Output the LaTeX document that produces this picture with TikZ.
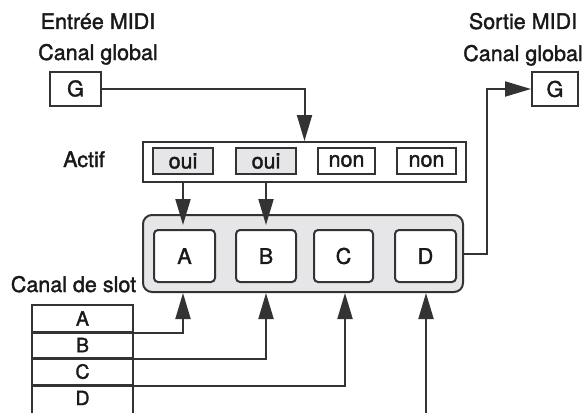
\documentclass[tikz,border=0pt]{standalone}
\usepackage{fontspec}
\setmainfont{TeX Gyre Heros}[FakeBold=1.6]
\usetikzlibrary{arrows.meta}
\definecolor{ln}{HTML}{333333}
\definecolor{gfill}{HTML}{E6E6E8}
\begin{document}
\begin{tikzpicture}[x=1pt,y=-1pt,
  every node/.style={font=\fontsize{21.5}{24}\selectfont, text=black!90, inner sep=0pt},
  lbl/.style={anchor=base},
  gbox/.style={draw=ln,line width=2pt,fill=white,minimum height=34pt},
  flag/.style={draw=ln,line width=1.3pt,minimum height=26pt},
  slotbox/.style={draw=ln,line width=2pt,fill=white,rounded corners=4pt,minimum height=52pt,minimum width=60pt},
  row/.style={draw=ln,line width=2pt,minimum width=101pt,font=\fontsize{19.5}{22}\selectfont},
  conn/.style={draw=ln,line width=2pt,-{Triangle[length=26pt,width=15pt]}}]
\clip (0,0) rectangle (585,412);
\fill[white] (0,0) rectangle (585,412);
% labels
\node[lbl] (tin) at (98,29) {Entrée MIDI};
\node[lbl] (cgin) at (98,60) {Canal global};
\node[lbl] (tout) at (523,29) {Sortie MIDI};
\node[lbl] (cgout) at (523,61) {Canal global};
\node[lbl] (tact) at (84,167) {Actif};
\node[lbl] (tslot) at (73.5,292) {Canal de slot};
% G boxes
\node[gbox,minimum width=51pt] (gin) at (75.5,88.5) {G};
\node[gbox,minimum width=46pt] (gout) at (555,89) {G};
% Actif
\node[draw=ln,line width=2pt,fill=white,minimum width=323pt,minimum height=40pt] (actif) at (304.5,162) {};
\node[flag,fill=gfill,minimum width=60pt] (oui1) at (183,161) {oui};
\node[flag,fill=gfill,minimum width=60pt] (oui2) at (266,161) {oui};
\node[flag,fill=white,minimum width=57pt] (non1) at (346.5,161) {non};
\node[flag,fill=white,minimum width=59pt] (non2) at (426.5,161) {non};
% slots
\node[draw=ln,line width=2pt,fill=gfill,rounded corners=9pt,minimum width=320pt,minimum height=77pt] (slots) at (303,253.5) {};
\node[slotbox,minimum width=61pt] (A) at (184.5,256) {A};
\node[slotbox] (B) at (266,256) {B};
\node[slotbox,minimum width=59pt] (C) at (343.5,256) {C};
\node[slotbox,minimum width=61pt] (D) at (425.5,256) {D};
% slot table
\node[row,minimum height=27pt] (rowA) at (82.5,318.5) {A};
\node[row,minimum height=26pt] (rowB) at (82.5,345) {B};
\node[row,minimum height=27pt] (rowC) at (82.5,371.5) {C};
\node[row,minimum height=40pt] (rowD) at (82.5,405) {};
\node[lbl,font=\fontsize{19.5}{22}\selectfont] (tD) at (82.5,405) {D};
\coordinate (dbot) at (426,420);
% connectors
\draw[conn] (gin.east) -| (actif.north);
\draw[conn,shorten >=4pt] (oui1 |- actif.south) -- (oui1 |- A.north);
\draw[conn,shorten >=4pt] (oui2 |- actif.south) -- (oui2 |- B.north);
\draw[conn] (slots.east) -- ++(23,0) |- (gout.west);
\draw[conn] (rowA.south west) -| (oui1 |- slots.south);
\draw[conn] (rowB.south west) -| (oui2 |- slots.south);
\draw[conn] (rowC.south west) -| (345,0 |- slots.south);
\draw[conn] (dbot) -- (dbot |- slots.south);
\end{tikzpicture}
\end{document}
